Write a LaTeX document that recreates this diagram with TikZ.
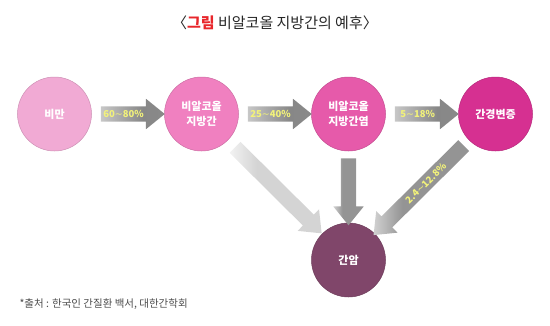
\documentclass[tikz,border=0pt]{standalone}
\usepackage{fontspec}
\setmainfont{Noto Sans CJK KR}
\newfontfamily\symfont{DejaVu Sans}
\usepackage{xcolor}
\usepackage{tikz}
\usetikzlibrary{positioning,shapes.arrows}
\definecolor{livObese}{HTML}{F1AAD4}
\definecolor{livFatty}{HTML}{F080C0}
\definecolor{livNash}{HTML}{E65AAA}
\definecolor{livCirr}{HTML}{D63091}
\definecolor{livCancer}{HTML}{80466A}
\definecolor{titleRed}{HTML}{E8262B}
\definecolor{pctYellow}{HTML}{F2F27A}
\pgfdeclarehorizontalshading{arrMid}{100bp}{color(0bp)=(black!22); color(25bp)=(black!22); color(58bp)=(black!47); color(100bp)=(black!45)}
\pgfdeclarehorizontalshading{arrLight}{100bp}{color(0bp)=(black!5); color(25bp)=(black!5); color(40bp)=(black!17); color(100bp)=(black!17)}
\pgfdeclarehorizontalshading{arrDark}{100bp}{color(0bp)=(black!18); color(25bp)=(black!18); color(40bp)=(black!42); color(100bp)=(black!42)}
\tikzset{
  stage/.style={circle, fill=#1, draw=#1!85!black, line width=0.5pt, minimum size=74pt, inner sep=0pt, outer sep=0pt, align=center, text=white, font=\fontsize{11}{15}\selectfont\bfseries},
  blockarr/.style={single arrow, shading=#1, inner sep=0pt, inner ysep=7.5pt, single arrow head extend=7.5pt, single arrow tip angle=78, outer sep=0pt, sloped, allow upside down},
  pct/.style={text=pctYellow, font=\fontsize{9.5}{11}\selectfont\bfseries, inner sep=0pt},
}
\newcommand{\rng}{{\symfont\mdseries ∼}}
\begin{document}
\begin{tikzpicture}[x=1pt, y=-1pt, node distance=73pt]
\useasboundingbox (0,0) rectangle (550,325);
\node[font=\fontsize{15}{17}\selectfont, text=black!85] (title) at (275,23) {〈\textcolor{titleRed}{\bfseries 그림} 비알코올 지방간의 예후〉};
% stages
\node[stage=livObese] (obese) at (54.5,114) {비만};
\node[stage=livFatty, right=of obese] (fatty) {비알코올\\지방간};
\node[stage=livNash, right=of fatty] (nash) {비알코올\\지방간염};
\node[stage=livCirr, right=of nash] (cirr) {간경변증};
\node[stage=livCancer, below=72pt of nash] (cancer) {간암};
% progression arrows
\path (obese) -- node[blockarr=arrMid, minimum height=64pt] {} node[pct, pos=0.44] {60\rng80\%} (fatty);
\path (fatty) -- node[blockarr=arrMid, minimum height=64pt] {} node[pct, pos=0.44] {25\rng40\%} (nash);
\path (nash) -- node[blockarr=arrMid, minimum height=64pt] {} node[pct, pos=0.44] {5\rng18\%} (cirr);
\path (fatty) -- node[blockarr=arrLight, minimum height=122pt] {} (cancer);
\path (nash) -- node[blockarr=arrDark, minimum height=67pt] {} (cancer);
\path (cirr) -- node[blockarr=arrDark, minimum height=127pt] {} node[pct, sloped, pos=0.46] {2.4\rng12.8\%} (cancer);
\node[anchor=west, font=\fontsize{10.5}{12}\selectfont, text=black!70] (src) at (16,304) {*출처 : 한국인 간질환 백서, 대한간학회};
\end{tikzpicture}
\end{document}
